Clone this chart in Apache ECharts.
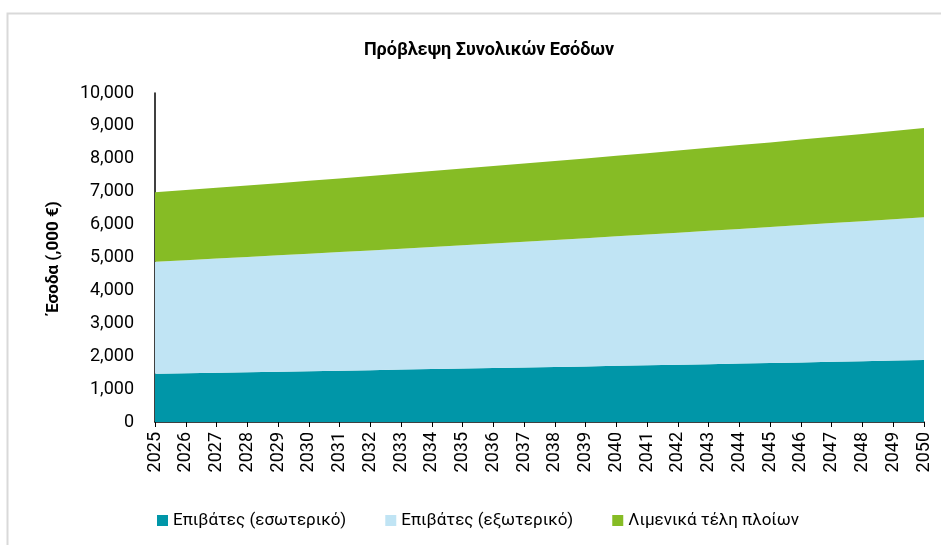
<!DOCTYPE html>
<html>
<head>
<meta charset="utf-8">
<script src="https://cdn.jsdelivr.net/npm/echarts@6/dist/echarts.min.js"></script>
<style>
  html, body { margin: 0; padding: 0; background: #fff; }
  #chart { width: 941px; height: 545px; }
</style>
</head>
<body>
<div id="chart"></div>
<script>
// years on the x axis
var years = ['2025','2026','2027','2028','2029','2030','2031','2032','2033','2034','2035','2036','2037',
  '2038','2039','2040','2041','2042','2043','2044','2045','2046','2047','2048','2049','2050'];

// revenue, thousands of euro
var domestic = [1470,1485,1500,1515,1530,1545,1560,1576,1592,1608,1624,1640,1656,
  1673,1690,1707,1724,1741,1758,1776,1794,1812,1830,1848,1866,1885];
var foreign = [3400,3433,3467,3501,3535,3570,3605,3640,3676,3712,3748,3785,3822,
  3860,3898,3936,3975,4014,4053,4093,4133,4174,4215,4256,4298,4340];
var portFees = [2110,2131,2152,2173,2195,2217,2239,2261,2284,2307,2330,2353,2376,
  2400,2424,2448,2472,2497,2522,2547,2572,2598,2624,2650,2680,2710];

var names = ['Επιβάτες (εσωτερικό)', 'Επιβάτες (εξωτερικό)', 'Λιμενικά τέλη πλοίων'];
var colors = ['#0096a8', '#c0e4f4', '#86bc25'];

var chart = echarts.init(document.getElementById('chart'));

function area(name, data, color) {
  return {
    name: name,
    type: 'line',
    stack: 'total',
    data: data,
    symbol: 'none',
    lineStyle: { width: 0 },
    areaStyle: { color: color, opacity: 1 },
    itemStyle: { color: color }
  };
}

var option = {
  animation: false,
  textStyle: { fontFamily: 'Roboto, sans-serif' },
  title: {
    text: 'Πρόβλεψη Συνολικών Εσόδων',
    left: 484,
    textAlign: 'center',
    top: 36,
    textStyle: { fontSize: 18, fontWeight: 'bold', color: '#000', fontFamily: 'Roboto, sans-serif' }
  },
  graphic: [{
    type: 'rect',
    shape: { x: 7.5, y: 13.5, width: 960, height: 560 },
    style: { fill: 'none', stroke: '#d9d9d9', lineWidth: 2 },
    silent: true
  }],
  legend: {
    top: 507,
    left: 152,
    itemWidth: 11,
    itemHeight: 11,
    itemGap: 39,
    icon: 'rect',
    textStyle: { fontSize: 17, color: '#000', fontFamily: 'Roboto, sans-serif' },
    data: names
  },
  grid: { left: 155, right: 17, top: 93, bottom: 123, containLabel: false },
  xAxis: {
    type: 'category',
    boundaryGap: false,
    data: years,
    axisLine: { lineStyle: { color: '#000', width: 1.5 } },
    axisTick: { show: true, alignWithLabel: true, length: 5, lineStyle: { color: '#000' } },
    axisLabel: { rotate: 90, interval: 0, fontSize: 18, color: '#000', margin: 10, fontFamily: 'Roboto, sans-serif' }
  },
  yAxis: {
    type: 'value',
    min: 0,
    max: 10000,
    interval: 1000,
    name: 'Έσοδα (,000 €)',
    nameLocation: 'middle',
    nameGap: 93,
    nameTextStyle: { fontSize: 17, fontWeight: 'bold', color: '#000', fontFamily: 'Roboto, sans-serif' },
    axisLine: { show: true, lineStyle: { color: '#000', width: 1.5 } },
    axisTick: { show: false },
    splitLine: { show: false },
    axisLabel: {
      fontSize: 18, color: '#000', margin: 21, fontFamily: 'Roboto, sans-serif',
      formatter: function (v) { return v.toLocaleString('en-US'); }
    }
  },
  series: [
    area(names[0], domestic, colors[0]),
    area(names[1], foreign, colors[1]),
    area(names[2], portFees, colors[2])
  ]
};

chart.setOption(option);
</script>
</body>
</html>
